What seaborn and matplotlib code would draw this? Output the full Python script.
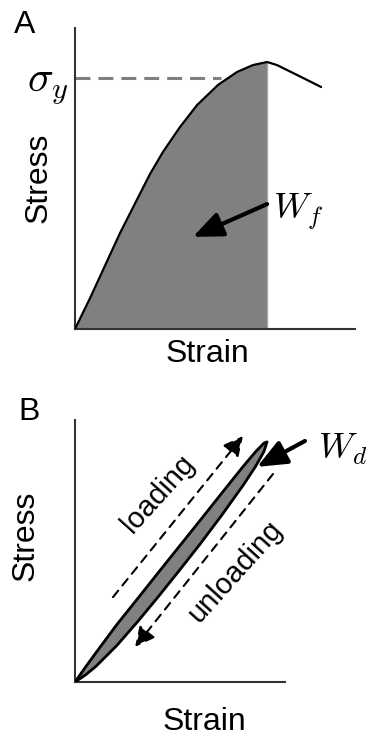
import numpy as np
import pandas as pd
import matplotlib
matplotlib.use("Agg")
import matplotlib.pyplot as plt
import seaborn as sns

# ---------------- data ----------------
# Panel A: stress-strain curve (normalised units)
strain_a = [0, 0.054, 0.100, 0.161, 0.221, 0.268, 0.314, 0.375, 0.436, 0.511,
            0.579, 0.636, 0.686, 0.721, 0.793, 0.879]
stress_a = [0, 0.103, 0.196, 0.319, 0.429, 0.515, 0.588, 0.671, 0.744, 0.811,
            0.854, 0.877, 0.887, 0.877, 0.844, 0.804]
sigma_y = 0.834
yield_strain = 0.52
wf_arrow = [(0.686, 0.415), (0.421, 0.306)]   # (from, to)

# Panel B: hysteresis loop
strain_b = [0, 0.05, 0.1, 0.2, 0.3, 0.4, 0.5, 0.6, 0.7, 0.8, 0.86, 0.9, 0.914]
loading_b = [0, 0.057, 0.112, 0.220, 0.320, 0.421, 0.521, 0.621, 0.722, 0.822,
             0.879, 0.912, 0.916]
unloading_b = [0, 0.027, 0.060, 0.140, 0.232, 0.329, 0.429, 0.531, 0.638, 0.750,
               0.823, 0.880, 0.916]
loading_arrow = [(0.181, 0.324), (0.800, 0.939)]
unloading_arrow = [(0.943, 0.794), (0.286, 0.134)]
wd_arrow = [(1.095, 0.920), (0.867, 0.821)]

# ---------------- style ----------------
sns.set_style("white")
plt.rcParams["font.family"] = ["Liberation Sans", "DejaVu Sans"]
plt.rcParams["mathtext.fontset"] = "cm"
plt.rcParams["text.color"] = "black"

W, H = 369, 740
fig = plt.figure(figsize=(W / 100, H / 100), dpi=100)

def fx(px):
    return px / W

def fy(py):
    return 1 - py / H

axA = fig.add_axes([fx(75), fy(329), 280 / W, 301 / H])
axB = fig.add_axes([fx(75), fy(682), 210 / W, 262 / H])

for ax in (axA, axB):
    ax.set_xlim(0, 1)
    ax.set_ylim(0, 1)
    ax.set_xticks([])
    ax.set_yticks([])
    for s in ("top", "right"):
        ax.spines[s].set_visible(False)
    for s in ("left", "bottom"):
        ax.spines[s].set_color("#333333")
        ax.spines[s].set_linewidth(1.5)
    ax.set_facecolor("none")

# ---------------- Panel A ----------------
dfA = pd.DataFrame({"strain": strain_a, "stress": stress_a})
ipk = int(np.argmax(stress_a))
axA.fill_between(strain_a[:ipk + 1], 0, stress_a[:ipk + 1], color="#808080", lw=0, zorder=1)
axA.plot([strain_a[ipk], strain_a[ipk]], [0, stress_a[ipk]], color="#a8a8a8", lw=1, zorder=1.5)
sns.lineplot(data=dfA, x="strain", y="stress", ax=axA, color="black", lw=1.6,
             sort=False, estimator=None, zorder=3)
axA.plot([0, yield_strain], [sigma_y, sigma_y], color="#808080", lw=2.2,
         linestyle=(0, (4.9, 2.6)), zorder=2)
axA.annotate("", xy=wf_arrow[1], xytext=wf_arrow[0],
             arrowprops=dict(arrowstyle="-|>,head_length=0.9,head_width=0.38",
                             lw=3, color="black", mutation_scale=20,
                             shrinkA=0, shrinkB=0), zorder=4)
axA.set_xlabel("")
axA.set_ylabel("")

fig.text(fx(25), fy(25), "A", fontsize=23, ha="center", va="center")
fig.text(fx(39), fy(178), "Stress", fontsize=23, rotation=90, ha="center", va="center")
fig.text(fx(207), fy(354), "Strain", fontsize=23, ha="center", va="center")
fig.text(fx(48), fy(87), r"$\sigma_y$", fontsize=31, ha="center", va="center")
fig.text(fx(273), fy(212), r"$W_f$", fontsize=26, ha="left", va="center")

# ---------------- Panel B ----------------
axB.fill_between(strain_b, unloading_b, loading_b, color="#808080", lw=0, zorder=1)
sns.lineplot(x=strain_b, y=loading_b, ax=axB, color="black", lw=2.0,
             sort=False, estimator=None, zorder=3)
sns.lineplot(x=strain_b, y=unloading_b, ax=axB, color="black", lw=2.0,
             sort=False, estimator=None, zorder=3)
for arr in (loading_arrow, unloading_arrow):
    axB.annotate("", xy=arr[1], xytext=arr[0],
                 arrowprops=dict(arrowstyle="-|>,head_length=0.6,head_width=0.3",
                                 lw=1.5, ls=(0, (4.0, 3.2)), color="black",
                                 mutation_scale=20, shrinkA=0, shrinkB=0))
axB.annotate("", xy=wd_arrow[1], xytext=wd_arrow[0], annotation_clip=False,
             arrowprops=dict(arrowstyle="-|>,head_length=0.9,head_width=0.38",
                             lw=3, color="black", mutation_scale=20,
                             shrinkA=0, shrinkB=0), zorder=4)
axB.text(0.395, 0.718, "loading", fontsize=21, rotation=48, rotation_mode="anchor",
         ha="center", va="center")
axB.text(0.762, 0.420, "unloading", fontsize=21, rotation=48, rotation_mode="anchor",
         ha="center", va="center")
axB.set_xlabel("")
axB.set_ylabel("")

fig.text(fx(29), fy(412), "B", fontsize=23, ha="center", va="center")
fig.text(fx(26), fy(536), "Stress", fontsize=23, rotation=90, ha="center", va="center")
fig.text(fx(204), fy(722), "Strain", fontsize=23, ha="center", va="center")
fig.text(fx(318), fy(449), r"$W_d$", fontsize=26, ha="left", va="center")

fig.savefig("out.png", dpi=100)
